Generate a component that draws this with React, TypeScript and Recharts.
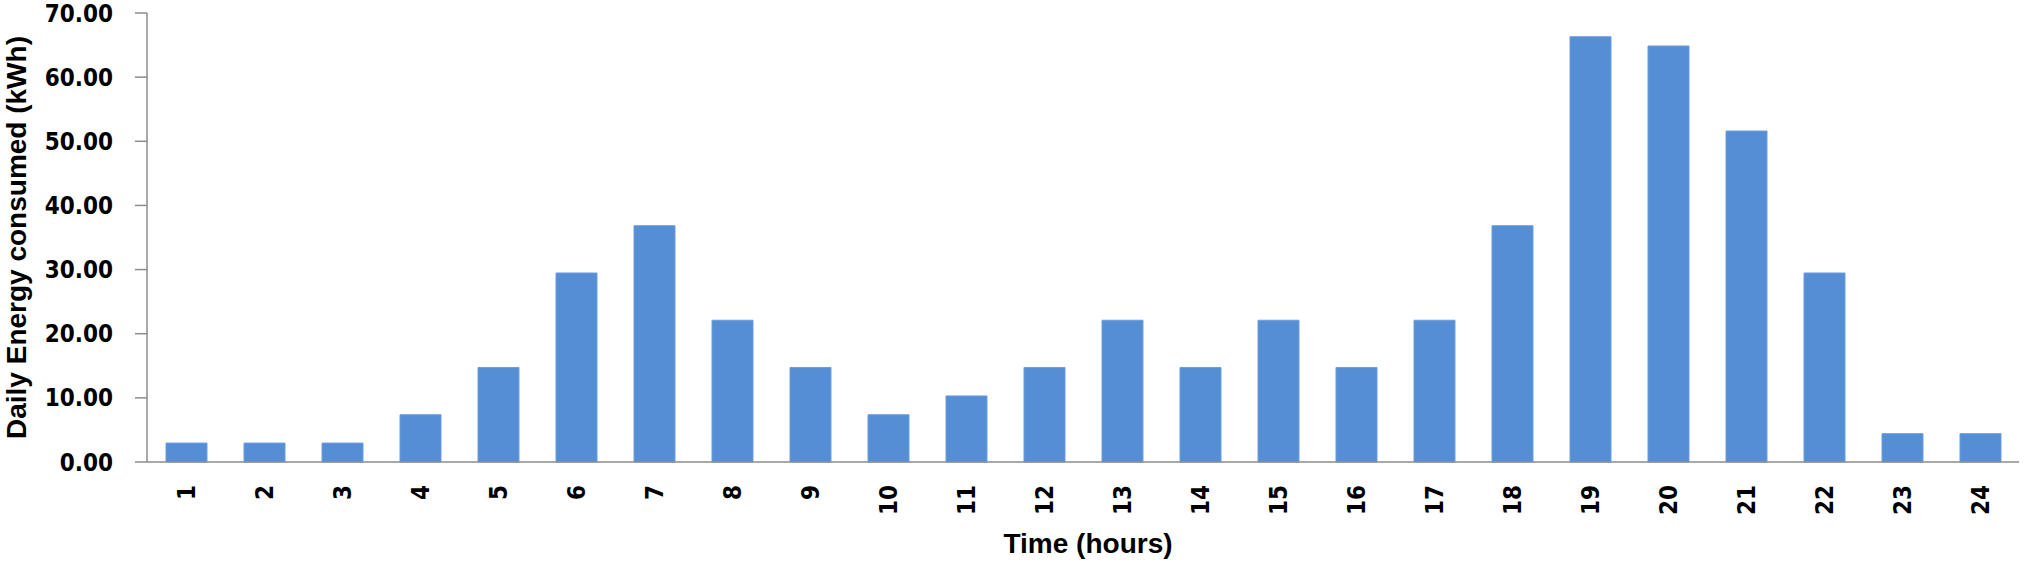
import { BarChart, Bar, XAxis, YAxis } from "recharts";

const hours = ["1", "2", "3", "4", "5", "6", "7", "8", "9", "10", "11", "12", "13", "14", "15", "16", "17", "18", "19", "20", "21", "22", "23", "24"];
const energy = [2.95, 2.95, 2.95, 7.37, 14.74, 29.47, 36.84, 22.1, 14.74, 7.37, 10.3, 14.74, 22.1, 14.74, 22.1, 14.74, 22.1, 36.84, 66.3, 64.86, 51.6, 29.47, 4.42, 4.42];
const yTicks = [0, 10, 20, 30, 40, 50, 60, 70];

const data = hours.map((h, i) => ({ hour: h, value: energy[i] }));

const tickFont = "'DejaVu Sans Condensed', 'DejaVu Sans', Tahoma, sans-serif";
const titleFont = "'Liberation Sans', Arial, sans-serif";
const axisColor = "#8c8c8c";

const HourTick = ({ x, y, payload }: { x?: number; y?: number; payload?: { value: string } }) => (
  <g transform={`translate(${x},${y})`}>
    <text
      transform="rotate(-90)"
      x={-23}
      y={0}
      dy="0.36em"
      textAnchor="end"
      fontFamily={tickFont}
      fontWeight="bold"
      fontSize={24}
      fill="#000"
    >
      {payload?.value}
    </text>
  </g>
);

const YTitle = ({ viewBox }: { viewBox?: { x: number; y: number; width: number; height: number } }) => {
  const cy = viewBox ? viewBox.y + viewBox.height / 2 : 237;
  return (
    <text
      transform={`translate(16,${cy}) rotate(-90)`}
      textAnchor="middle"
      dominantBaseline="central"
      fontFamily={titleFont}
      fontWeight="bold"
      fontSize={28}
      fill="#000"
    >
      Daily Energy consumed (kWh)
    </text>
  );
};

const XTitle = ({ viewBox }: { viewBox?: { x: number; y: number; width: number; height: number } }) => {
  const cx = viewBox ? viewBox.x + viewBox.width / 2 + 5 : 1088;
  return (
    <text
      x={cx}
      y={543}
      textAnchor="middle"
      dominantBaseline="central"
      fontFamily={titleFont}
      fontWeight="bold"
      fontSize={28}
      fill="#000"
    >
      Time (hours)
    </text>
  );
};

export default function App() {
  return (
    <div style={{ position: "absolute", left: 0, top: 0, background: "#fff" }}>
      <BarChart
        width={2032}
        height={563}
        data={data}
        margin={{ top: 13, right: 13, bottom: 0, left: 0 }}
        barSize={41}
      >
        <XAxis
          dataKey="hour"
          height={101}
          interval={0}
          tick={<HourTick />}
          tickLine={false}
          tickSize={0}
          tickMargin={0}
          axisLine={{ stroke: axisColor, strokeWidth: 1.5 }}
          label={<XTitle />}
        />
        <YAxis
          width={147}
          domain={[0, 70]}
          ticks={yTicks}
          interval={0}
          tickFormatter={(v: number) => v.toFixed(2)}
          tickSize={12}
          tickMargin={22}
          tick={{ fontFamily: tickFont, fontWeight: "bold", fontSize: 24, fill: "#000" }}
          tickLine={{ stroke: axisColor, strokeWidth: 1.5 }}
          axisLine={{ stroke: axisColor, strokeWidth: 1.5 }}
          label={<YTitle />}
        />
        <Bar
          dataKey="value"
          fill="#558ed5"
          stroke="#6b9de0"
          strokeWidth={1}
          isAnimationActive={false}
        />
      </BarChart>
    </div>
  );
}
